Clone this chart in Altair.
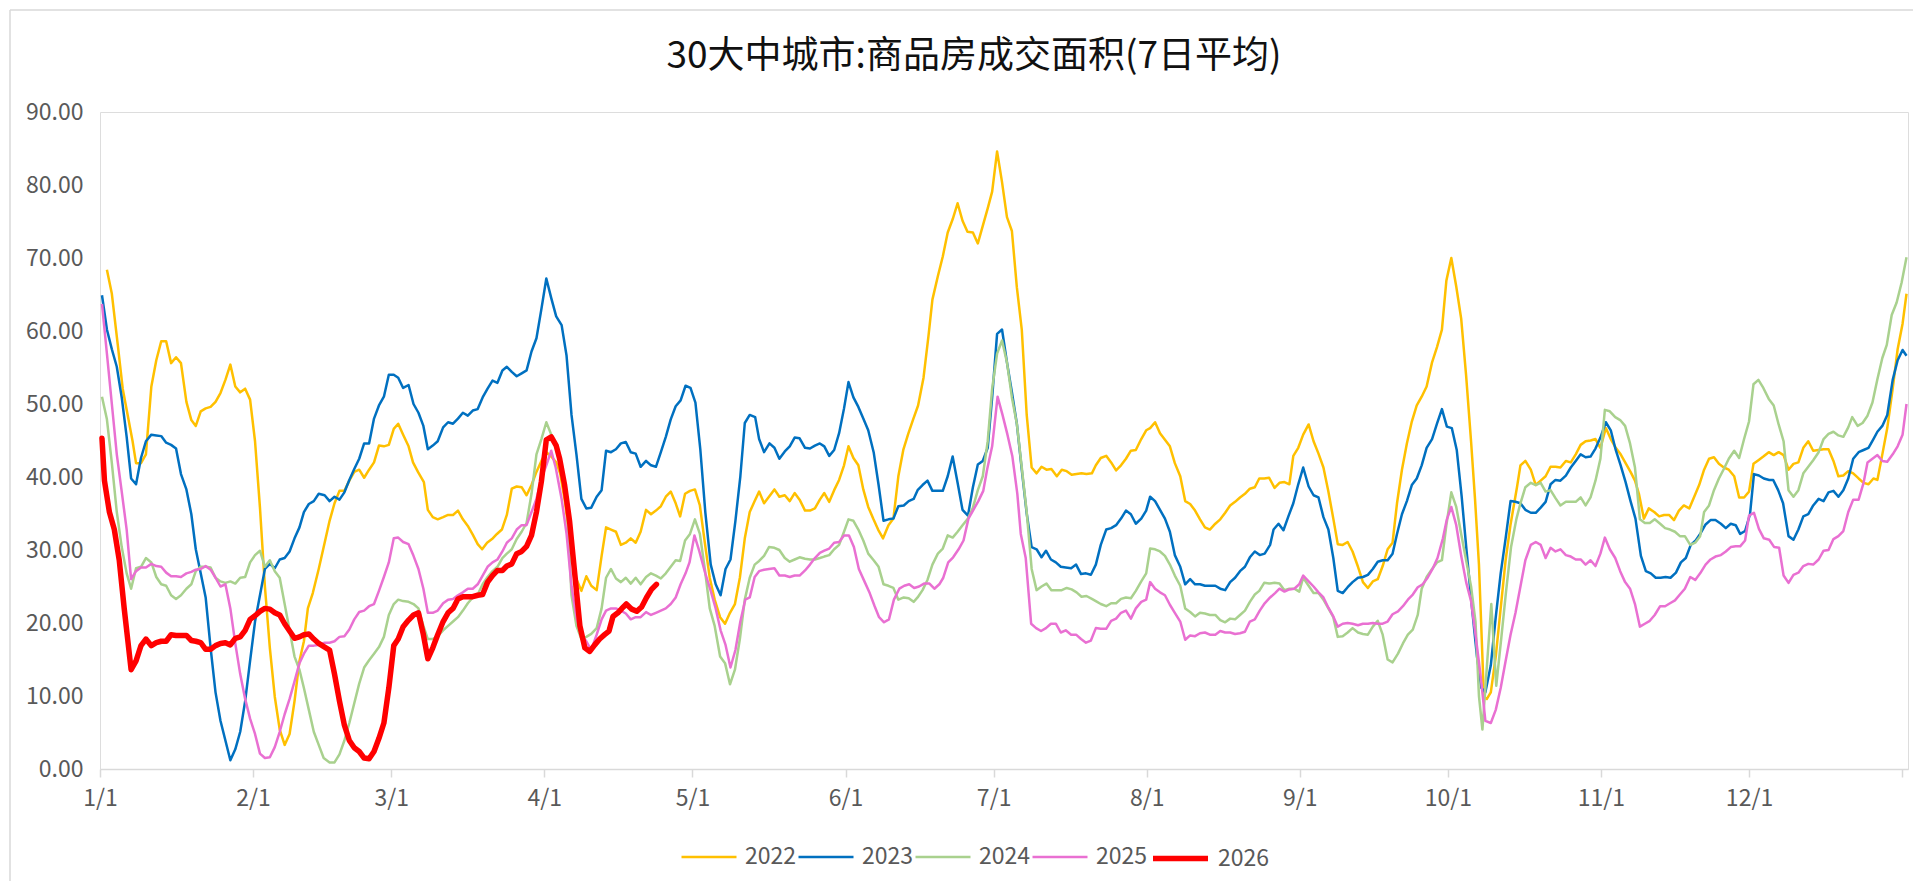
import altair as alt
import pandas as pd

years = ["2022", "2023", "2024", "2025", "2026"]
colors = ["#FFC000", "#0070C0", "#A9D18E", "#E970D2", "#FF0000"]
thin_width = 2.5
thick_width = 5.5
month_days = [0, 31, 59, 90, 120, 151, 181, 212, 243, 273, 304, 334, 365]
month_labels = ["1/1", "2/1", "3/1", "4/1", "5/1", "6/1", "7/1", "8/1", "9/1", "10/1", "11/1", "12/1", ""]
y_ticks = [0, 10, 20, 30, 40, 50, 60, 70, 80, 90]
title_text = "30大中城市:商品房成交面积(7日平均)"

d2022 = [1.4,2.4,3.6,4.6,5.6,6.6,7.3,8.3,9.3,10.4,11.4,12.4,13.4,14.4,15.4,16.4,17.5,18.5,19.4,20.4,21.4,22.4,23.4,24.4,25.4,26.4,27.4,28.4,29.4,30.4,31.4,32.4,33.4,34.4,35.4,36.4,37.4,38.4,39.4,40.4,41.3,42.1,43.1,44.3,45.5,46.5,47.5,48.5,49.5,50.5,51.5,52.5,53.5,54.5,55.5,56.5,57.5,58.5,59.5,60.4,61.4,62.5,63.4,64.4,65.6,66.4,67.4,68.4,69.5,70.5,71.5,72.5,73.5,74.5,75.5,76.5,77.4,78.4,79.4,80.4,81.4,82.4,83.4,84.4,85.4,86.4,87.4,88.4,89.4,90.4,91.4,92.4,93.2,94.2,95.2,96.2,97.5,98.5,99.5,100.6,101.6,102.5,103.5,104.5,105.5,106.5,107.5,108.5,109.5,110.6,111.6,112.6,113.6,114.6,115.6,116.6,117.5,118.5,119.5,120.5,121.5,122.5,123.5,124.5,125.6,126.6,127.6,128.6,129.6,130.6,131.6,132.6,133.5,134.5,135.5,136.6,137.6,138.7,139.7,140.7,141.7,142.8,143.8,144.8,145.8,146.7,147.7,148.7,149.7,150.7,151.6,152.6,153.6,154.6,155.6,156.6,157.6,158.6,159.7,160.7,161.7,162.7,163.7,164.7,165.7,166.8,167.8,168.6,169.7,170.7,171.7,172.7,173.7,174.7,175.7,176.8,177.8,178.8,179.8,180.7,181.7,182.7,183.7,184.7,185.7,186.7,187.7,188.7,189.7,190.7,191.7,192.7,193.8,194.8,195.8,196.8,197.8,198.8,199.8,200.9,201.7,202.7,203.8,204.8,205.8,206.8,207.8,208.8,209.8,210.9,211.9,212.7,213.7,214.7,215.7,216.7,217.7,218.8,219.8,220.8,221.8,222.8,223.8,224.8,225.9,226.9,227.9,228.9,229.9,230.9,231.9,232.9,233.9,234.8,235.8,236.8,237.9,238.9,239.9,240.9,241.7,242.7,243.7,244.8,245.8,246.8,247.8,248.8,249.8,250.7,251.7,252.7,253.7,254.8,255.8,256.8,257.8,258.8,259.8,260.8,261.8,262.7,263.7,264.7,265.7,266.7,267.7,268.7,269.8,270.8,271.8,272.7,273.7,274.7,275.7,276.7,277.7,278.5,279.3,280.3,280.9,281.7,282.7,283.7,284.7,285.7,287.0,287.7,288.7,289.8,290.8,291.8,292.8,293.8,294.8,295.8,296.9,297.9,298.9,299.9,300.9,301.9,302.9,303.9,305.0,306.0,307.0,308.0,309.0,310.0,310.9,311.7,312.7,313.7,314.8,315.8,316.8,317.8,318.8,319.8,320.8,321.9,322.9,323.9,324.9,325.9,326.9,327.9,328.9,329.9,331.0,332.0,333.0,334.0,334.9,335.9,336.9,338.0,339.0,340.0,341.0,342.0,343.0,344.0,345.0,346.0,347.0,348.1,349.1,350.1,351.1,352.1,353.1,354.1,355.1,356.2,357.2,358.2,359.2,360.0,361.0,362.0,363.1,364.1,365.1,365.9]
v2022 = [68.4,65.1,58.1,52.1,48.5,44.9,41.9,41.9,43.1,52.4,56.0,58.6,58.6,55.6,56.4,55.6,50.3,47.8,47.0,49.0,49.4,49.6,50.3,51.5,53.3,55.4,52.4,51.6,52.1,50.6,44.9,35.8,25.0,16.6,9.9,5.4,3.3,4.8,9.3,14.8,17.5,22.0,24.1,27.4,31.0,34.0,36.4,38.1,38.1,39.5,40.7,41.0,39.9,41.0,42.0,44.3,44.2,44.4,46.6,47.3,45.8,44.2,42.0,40.7,39.3,35.5,34.5,34.2,34.5,34.8,34.8,35.4,34.2,33.3,32.1,30.8,30.1,31.0,31.5,32.2,32.8,34.8,38.4,38.7,38.6,37.5,38.9,40.7,42.2,43.4,42.8,42.0,40.5,36.5,31.0,26.5,24.4,26.4,25.1,24.5,29.2,33.1,32.8,32.5,30.7,31.0,31.6,31.0,32.5,35.5,34.9,35.4,36.0,37.3,38.0,36.4,34.6,37.7,38.1,38.3,36.1,31.0,26.2,23.2,20.8,19.9,21.4,22.6,26.2,31.6,35.2,36.7,38.0,36.4,37.3,38.3,37.3,37.5,36.7,37.8,36.9,35.4,35.4,35.7,36.9,37.8,36.6,38.2,39.6,41.6,44.2,42.6,41.6,38.3,35.9,34.3,32.8,31.6,33.4,34.3,40.1,43.7,45.9,47.9,49.8,53.6,59.3,64.3,67.5,70.2,73.5,75.3,77.5,75.1,73.6,73.5,72.0,74.4,76.8,79.1,84.6,80.4,75.6,73.7,66.0,60.2,48.5,41.3,40.5,41.4,41.0,41.1,40.1,41.0,40.8,40.3,40.4,40.5,40.4,40.5,41.6,42.6,42.9,42.0,40.9,41.6,42.5,43.6,43.7,45.2,46.4,46.7,47.5,46.0,45.1,44.2,41.9,40.1,36.7,36.3,35.4,34.2,33.1,32.8,33.6,34.2,35.1,36.1,36.6,37.2,37.7,38.4,38.6,39.8,39.8,39.9,38.5,39.2,39.3,39.0,42.9,44.0,45.8,47.2,44.9,43.2,41.3,38.0,34.3,30.8,30.7,31.1,29.8,27.7,25.6,24.8,25.7,26.0,27.8,30.1,31.0,36.4,41.0,44.6,47.6,49.8,51.0,52.4,55.7,57.8,60.2,66.9,70.0,66.1,61.7,53.9,44.9,37.0,28.0,9.9,9.6,10.5,15.4,22.0,28.6,33.5,38.6,41.6,42.2,41.0,38.9,39.5,40.1,41.4,41.4,41.3,42.2,42.0,43.1,44.4,44.9,45.0,45.2,44.0,46.7,45.2,44.0,43.1,41.9,40.7,39.5,37.7,34.3,35.7,35.2,34.6,34.8,34.8,34.1,35.4,36.1,35.7,37.3,38.9,41.0,42.5,42.7,41.8,41.3,41.0,40.1,37.2,37.2,38.0,41.8,42.3,42.8,43.4,43.0,43.4,43.0,41.0,41.8,42.0,44.0,44.9,43.6,43.7,43.8,43.8,42.2,40.1,40.2,40.8,40.5,39.8,39.2,39.0,39.8,39.6,43.1,46.7,52.1,57.5,61.0,65.1]

d2023 = [0.4,1.4,2.4,3.4,4.4,5.4,6.3,7.3,8.3,9.3,10.4,11.4,12.4,13.4,14.4,15.4,16.4,17.5,18.5,19.4,20.4,21.4,22.4,23.4,24.4,25.4,26.4,27.4,28.4,29.4,30.4,31.4,32.4,33.4,34.4,35.4,36.4,37.4,38.4,39.4,40.4,41.3,42.3,43.3,44.3,45.5,46.5,47.5,48.5,49.5,50.5,51.5,52.5,53.5,54.5,55.5,56.5,57.5,58.5,59.5,60.4,61.4,62.5,63.5,64.5,65.5,66.4,67.4,68.4,69.5,70.5,71.5,72.5,73.5,74.5,75.5,76.5,77.5,78.5,79.5,80.5,81.5,82.4,83.4,84.4,85.4,86.4,87.4,88.4,89.4,90.4,91.4,92.4,93.5,94.5,95.5,96.5,97.5,98.5,99.5,100.6,101.6,102.5,103.5,104.5,105.5,106.5,107.5,108.5,109.5,110.6,111.6,112.6,113.6,114.6,115.6,116.6,117.6,118.6,119.6,120.6,121.6,122.6,123.7,124.7,125.7,126.7,127.7,128.7,129.7,130.6,131.6,132.7,133.5,134.5,135.6,136.6,137.6,138.7,139.7,140.7,141.7,142.8,143.8,144.8,145.8,146.7,147.7,148.7,149.7,150.7,151.6,152.6,153.6,154.6,155.6,156.7,157.7,158.7,159.7,160.7,161.7,162.8,163.8,164.8,165.6,166.6,167.6,168.6,169.7,170.7,171.7,172.7,173.7,174.7,175.8,176.8,177.8,178.8,179.8,180.7,181.7,182.7,183.7,184.7,185.7,186.7,187.7,188.7,189.7,190.7,191.6,192.6,193.6,194.6,195.6,196.7,197.7,198.7,199.7,200.7,201.7,202.7,203.8,204.8,205.8,206.8,207.8,208.8,209.8,210.9,211.9,212.7,213.7,214.7,215.7,216.7,217.7,218.8,219.8,220.8,221.8,222.8,223.8,224.8,225.9,226.9,227.9,228.9,229.9,230.9,231.9,232.9,233.9,234.9,235.9,237.0,237.7,238.7,239.7,240.7,241.7,242.7,243.7,244.8,245.8,246.8,247.8,248.8,249.8,250.7,251.7,252.7,253.7,254.8,255.8,256.8,257.8,258.8,259.8,260.8,261.8,262.7,263.7,264.7,265.7,266.7,267.7,268.7,269.8,270.8,271.8,272.8,273.8,274.8,275.8,276.8,277.9,278.9,279.8,280.6,281.7,282.7,283.7,284.7,285.7,286.7,287.7,288.7,289.8,290.8,291.8,292.8,293.8,294.8,295.8,296.9,297.9,298.9,299.9,300.9,301.9,302.9,303.9,305.0,306.0,307.0,308.0,309.0,310.0,311.0,312.1,313.1,314.1,315.1,316.1,317.1,318.1,319.2,320.2,321.2,322.2,323.2,324.2,325.2,326.2,327.2,328.3,329.3,330.3,331.3,332.2,333.2,334.2,335.0,336.0,337.0,338.1,338.9,339.9,340.9,342.0,343.0,344.0,345.0,346.0,347.0,348.1,349.1,350.1,351.1,352.1,353.1,354.1,355.1,356.2,357.2,358.2,359.2,360.0,361.0,362.0,363.1,364.1,365.1,365.9]
v2023 = [64.9,60.2,57.5,55.1,50.9,45.5,39.8,39.0,42.6,44.9,45.8,45.7,45.6,44.7,44.4,43.9,40.4,38.3,34.9,30.1,26.8,23.5,16.6,10.5,6.6,3.9,1.2,2.7,5.1,9.3,14.8,20.2,23.8,27.4,28.1,27.5,28.7,28.9,29.8,31.6,33.1,35.2,36.3,36.7,37.7,37.5,36.7,37.3,36.9,37.9,39.6,41.1,42.5,44.6,44.6,48.0,49.8,51.0,54.0,54.0,53.6,52.2,52.6,50.0,48.8,47.0,43.8,44.3,44.9,46.8,47.5,47.3,48.0,48.8,48.4,49.1,49.3,50.9,52.1,53.2,52.9,54.6,55.1,54.4,53.8,54.2,54.6,57.2,59.0,63.0,67.2,64.5,62.0,60.8,56.6,48.5,43.1,37.0,35.7,35.8,37.3,38.2,43.6,43.4,43.8,44.6,44.8,43.4,43.2,41.4,42.2,41.6,41.4,43.4,45.5,47.9,49.7,50.5,52.5,52.2,50.2,43.7,35.2,28.0,25.3,23.8,27.4,28.7,34.0,40.1,47.4,48.5,48.2,45.2,43.4,44.6,44.0,42.5,43.5,44.2,45.4,45.3,44.0,43.9,44.3,44.6,44.2,42.9,43.7,46.0,49.4,53.0,50.9,49.6,48.0,46.4,43.4,38.9,34.0,34.2,34.3,36.0,36.1,36.7,37.0,38.2,38.9,39.5,38.1,38.1,38.1,40.1,42.8,39.2,35.5,34.7,38.6,41.7,42.2,44.0,50.9,59.6,60.2,55.7,51.6,47.3,41.0,35.0,30.4,30.1,29.0,29.9,28.7,28.3,27.7,27.6,27.5,28.0,26.7,26.8,26.6,28.0,30.7,32.8,33.0,33.4,34.3,35.4,34.9,33.6,34.3,35.4,37.3,36.7,35.5,34.3,32.5,29.3,27.7,25.3,26.0,25.3,25.3,25.1,25.1,25.1,24.7,24.5,25.6,26.2,27.1,27.7,29.0,29.8,29.3,29.5,30.7,32.8,33.6,32.7,34.6,36.4,39.0,41.3,38.7,37.5,37.2,34.5,32.8,28.9,24.4,24.1,24.9,25.6,26.2,26.3,26.6,27.4,28.4,28.6,28.6,29.5,32.2,34.9,36.7,38.9,39.8,41.6,44.0,45.2,47.3,49.3,46.9,46.7,43.7,37.3,29.8,22.0,15.4,11.1,10.5,14.2,20.8,26.8,31.6,36.7,36.6,36.4,35.5,35.1,35.1,35.8,36.6,39.0,39.6,39.5,40.2,41.3,42.2,43.1,42.7,42.8,43.9,45.4,47.5,46.4,43.7,41.6,39.3,36.7,34.3,29.2,27.1,26.8,26.2,26.2,26.3,26.2,26.9,28.3,28.9,30.7,31.3,32.3,33.5,34.1,34.1,33.6,33.0,33.6,33.4,32.2,32.6,34.9,40.4,40.2,39.8,39.6,39.6,38.2,36.4,31.9,31.4,32.8,34.6,34.9,36.1,37.0,36.7,37.9,38.1,37.3,38.2,39.8,42.5,43.4,43.7,44.0,45.2,46.2,47.0,48.5,53.3,56.0,57.4,56.6]

d2024 = [0.4,1.4,2.4,3.4,4.4,5.4,6.3,7.3,8.3,9.3,10.4,11.4,12.4,13.4,14.4,15.4,16.4,17.5,18.5,19.4,20.4,21.4,22.4,23.4,24.4,25.4,26.4,27.4,28.4,29.4,30.4,31.4,32.4,33.4,34.4,35.4,36.4,37.4,38.4,39.4,40.4,41.3,42.3,43.3,44.3,45.3,46.5,47.5,48.5,49.5,50.5,51.5,52.5,53.5,54.5,55.5,56.5,57.5,58.5,59.5,60.4,61.4,62.5,63.5,64.5,65.5,66.4,67.4,68.4,69.5,70.5,71.5,72.5,73.5,74.5,75.5,76.5,77.5,78.5,79.5,80.5,81.5,82.4,83.4,84.4,85.4,86.4,87.4,88.4,89.4,90.4,91.4,92.4,93.1,94.5,95.5,96.5,97.5,98.5,99.5,100.6,101.6,102.5,103.5,104.5,105.5,106.5,107.5,108.5,109.5,110.6,111.6,112.6,113.6,114.6,115.6,116.6,117.5,118.5,119.5,120.5,121.5,122.5,123.5,124.5,125.6,126.6,127.6,128.6,129.6,130.6,131.6,132.6,133.5,134.5,135.5,136.6,137.6,138.7,139.7,140.7,141.7,142.8,143.8,144.8,145.8,146.7,147.7,148.7,149.7,150.7,151.6,152.6,153.6,154.6,155.6,156.7,157.7,158.7,159.7,160.7,161.7,162.8,163.8,164.8,165.6,166.6,167.6,168.6,169.7,170.7,171.7,172.7,173.7,174.7,175.8,176.8,177.8,178.8,179.8,180.7,181.7,182.7,183.7,184.7,185.7,186.7,187.7,188.7,189.7,190.7,191.7,192.7,193.8,194.8,195.8,196.8,197.8,198.8,199.8,200.9,201.7,202.7,203.8,204.8,205.8,206.8,207.8,208.8,209.8,210.9,211.9,212.7,213.7,214.7,215.7,216.7,217.7,218.8,219.8,220.8,221.8,222.8,223.8,224.8,225.9,226.9,227.9,228.9,229.9,230.9,231.9,232.9,233.9,234.8,235.8,236.8,237.9,238.9,239.9,240.9,241.9,242.9,243.7,244.8,245.8,246.8,247.8,248.8,249.8,250.7,251.7,252.7,253.7,254.8,255.8,256.8,257.8,258.8,259.8,260.8,261.8,262.9,263.9,264.9,265.9,266.9,267.7,268.7,269.8,270.8,271.8,272.7,273.7,274.7,275.7,276.7,277.7,278.6,279.3,280.0,281.8,282.8,283.8,284.8,285.8,286.9,287.7,288.7,289.8,290.8,291.8,292.8,293.8,294.8,295.8,296.9,297.9,298.9,299.9,300.9,301.9,302.9,303.9,304.8,305.8,306.9,307.9,308.9,309.9,310.9,311.9,312.9,313.9,314.9,316.0,317.0,318.0,319.0,320.0,321.0,322.1,323.1,324.1,324.9,325.9,326.9,327.9,328.9,329.9,331.0,332.0,333.0,334.0,334.9,335.9,336.9,338.0,339.0,340.0,341.0,342.0,343.0,344.0,345.0,346.0,347.0,348.1,349.1,350.1,351.1,352.1,353.1,354.1,354.9,356.0,357.0,358.0,359.0,360.0,361.0,361.9,362.9,363.9,364.9,365.9]
v2024 = [51.0,47.9,41.9,35.2,30.4,26.8,24.7,27.5,27.7,28.9,28.3,26.3,25.3,25.1,23.8,23.3,23.8,24.7,25.3,27.1,27.7,27.7,27.6,26.2,25.7,25.5,25.7,25.4,26.2,26.3,28.3,29.3,29.9,27.7,28.6,27.1,26.2,22.6,19.0,15.4,13.6,11.1,8.1,5.1,3.3,1.5,0.9,0.9,2.0,3.9,6.3,9.0,11.7,13.9,14.9,15.8,16.7,18.1,21.1,22.6,23.2,23.0,22.9,22.6,22.0,19.6,17.8,17.8,18.2,19.0,19.6,20.2,20.8,21.7,22.7,23.5,23.9,25.3,26.3,27.1,27.7,28.9,29.5,30.1,31.5,32.5,33.7,37.7,43.1,45.2,47.5,45.8,44.4,41.9,37.0,23.8,19.6,17.8,18.1,18.5,19.3,22.0,26.2,27.4,26.1,25.6,26.2,25.4,26.2,25.3,26.3,26.8,26.5,26.1,26.8,27.7,28.6,28.5,31.3,32.2,34.2,32.2,27.4,22.0,19.6,15.4,14.5,11.6,13.6,17.8,23.2,26.2,28.0,28.5,29.2,30.4,30.3,30.0,28.9,28.4,28.7,29.0,28.8,28.7,28.7,28.9,29.1,29.3,30.1,30.7,32.5,34.2,34.0,32.8,31.3,29.5,28.6,27.7,25.3,25.1,24.8,23.2,23.5,23.4,22.9,23.5,24.5,25.9,28.0,29.5,30.2,32.0,31.7,32.5,33.4,34.3,35.8,38.2,40.1,44.9,52.1,56.9,58.7,55.7,50.9,47.3,41.3,35.2,27.4,24.5,25.0,25.4,24.5,24.5,24.5,24.8,24.6,24.2,23.6,23.7,23.3,23.0,22.6,22.3,22.7,22.7,23.3,23.5,23.4,24.4,25.7,26.8,30.2,30.1,29.8,29.2,28.0,26.5,25.1,22.0,21.5,20.9,21.4,21.3,21.1,21.1,20.4,20.1,20.6,20.5,21.1,21.7,22.9,23.9,24.4,25.5,25.4,25.5,25.4,24.5,24.7,24.7,24.3,26.2,25.1,24.1,24.1,23.2,22.0,20.8,18.1,18.2,18.7,19.3,18.7,18.5,18.4,19.5,20.3,18.4,15.0,14.6,15.8,17.2,18.4,19.1,21.1,24.7,26.3,27.4,28.3,28.6,33.4,37.9,35.9,32.2,28.6,25.0,20.2,10.0,5.4,22.6,11.4,17.8,24.4,30.4,34.3,36.4,38.6,39.2,38.9,39.2,38.0,38.2,37.1,36.1,36.6,36.6,36.6,37.2,36.1,37.2,39.5,42.5,49.2,49.0,48.2,47.8,47.0,44.6,41.3,34.2,33.7,33.7,34.2,33.6,33.0,32.8,32.5,31.9,31.9,30.7,31.0,31.9,35.2,36.1,38.2,39.8,41.1,42.5,43.6,42.6,45.2,47.6,52.7,53.3,52.2,50.7,49.8,47.2,44.9,38.2,37.3,38.2,40.5,41.4,42.3,43.4,45.2,45.9,46.2,45.7,45.5,46.8,48.2,47.0,47.4,48.4,50.2,53.4,56.3,58.1,62.2,63.9,66.6,70.1]

d2025 = [0.4,1.4,2.4,3.4,4.4,5.4,6.3,7.3,8.3,9.3,10.4,11.4,12.4,13.4,14.4,15.4,16.4,17.5,18.5,19.4,20.4,21.4,22.4,23.4,24.4,25.4,26.4,27.4,28.4,29.4,30.4,31.4,32.4,33.4,34.4,35.4,36.4,37.4,38.4,39.4,40.4,41.3,42.3,43.3,44.3,45.5,46.5,47.5,48.5,49.5,50.5,51.5,52.5,53.5,54.5,55.5,56.5,57.5,58.5,59.5,60.4,61.4,62.5,63.5,64.5,65.5,66.4,67.4,68.4,69.5,70.5,71.5,72.5,73.5,74.5,75.5,76.5,77.5,78.5,79.5,80.5,81.5,82.4,83.4,84.4,85.4,86.4,87.4,88.4,89.4,90.4,91.4,92.3,93.5,94.5,95.5,96.5,97.5,98.5,99.5,100.6,101.6,102.5,103.5,104.5,105.5,106.5,107.5,108.5,109.5,110.6,111.6,112.6,113.6,114.6,115.6,116.6,117.6,118.6,119.4,120.4,121.4,122.6,123.7,124.7,125.7,126.7,127.7,128.7,129.7,130.7,131.6,132.6,133.5,134.5,135.5,136.6,137.6,138.7,139.7,140.7,141.7,142.8,143.8,144.8,145.8,146.7,147.7,148.7,149.7,150.7,151.7,152.7,153.7,154.9,155.9,156.9,157.8,158.8,159.8,160.8,161.9,162.9,163.9,164.9,165.9,166.9,168.0,169.0,170.0,170.8,171.8,172.8,173.9,174.9,175.9,176.9,177.9,178.9,179.7,180.7,181.8,182.8,183.8,184.8,185.8,186.5,187.5,188.6,189.6,190.6,191.6,192.6,193.6,194.6,195.6,196.7,197.7,198.7,199.7,200.7,201.7,202.7,203.8,204.8,205.8,206.8,207.8,208.8,209.8,210.9,211.9,212.7,213.7,214.7,215.7,216.7,217.7,218.8,219.8,220.8,221.8,222.8,223.8,224.8,225.9,226.9,227.9,228.9,229.9,230.9,231.9,232.9,233.9,234.9,235.9,237.0,238.0,238.9,239.9,240.9,241.9,242.9,243.7,244.8,245.8,246.8,247.8,248.8,249.8,250.7,251.7,252.7,253.7,254.8,255.8,256.8,257.8,258.8,259.8,260.8,261.8,262.9,263.9,264.9,265.9,266.9,267.9,268.9,269.9,270.9,272.0,272.8,273.7,274.7,275.7,276.7,277.7,278.6,279.6,280.6,281.7,282.7,283.7,284.7,285.7,286.7,287.7,288.7,289.8,290.8,291.8,292.8,293.8,294.8,295.8,296.9,297.9,298.9,299.9,300.9,301.9,302.9,303.9,304.8,305.8,306.9,307.9,308.9,309.9,310.9,311.9,312.9,313.9,314.9,316.0,317.0,318.0,319.0,320.0,321.0,322.1,323.1,324.1,325.2,326.2,327.2,328.3,329.3,330.3,331.3,332.2,333.2,334.0,335.0,336.0,337.0,338.1,339.1,340.1,341.0,342.0,343.0,344.0,345.0,346.0,347.0,348.1,349.1,350.1,351.1,352.1,353.1,354.1,355.1,356.2,357.2,358.0,359.0,360.0,361.0,362.0,363.1,364.1,365.1,365.9]
v2025 = [63.7,56.9,50.0,43.1,38.0,32.8,26.0,27.1,27.6,27.6,28.1,27.8,27.7,26.9,26.4,26.4,26.3,26.8,27.0,27.3,27.4,27.8,27.3,26.2,25.0,25.3,22.0,17.2,13.0,9.6,6.9,4.8,2.1,1.5,1.6,3.0,5.1,7.5,9.6,12.0,14.5,15.8,16.9,16.9,17.0,17.3,17.3,17.5,18.1,18.2,19.1,20.5,21.5,21.7,22.3,22.6,24.4,26.3,28.3,31.6,31.7,31.1,30.8,29.2,27.4,24.7,21.4,21.4,21.7,22.7,23.2,23.3,23.8,24.2,24.7,24.7,25.3,26.5,27.7,28.3,28.7,29.8,31.0,31.6,32.8,33.4,33.4,35.2,37.0,39.8,41.6,43.6,41.3,37.0,32.2,25.0,20.8,18.4,17.5,16.3,18.4,20.5,21.7,22.0,22.0,21.7,21.3,20.5,20.8,20.8,21.5,21.1,21.4,21.7,22.0,22.6,23.5,25.3,26.8,28.3,32.0,29.8,26.8,24.4,22.0,19.0,17.0,13.9,16.3,20.2,23.2,23.5,26.3,27.1,27.3,27.4,27.5,26.5,26.5,26.3,26.5,26.5,27.2,28.0,28.9,29.6,29.9,30.2,31.0,31.1,32.0,32.0,30.4,27.4,25.6,24.1,22.3,20.8,20.1,20.5,23.2,24.7,25.1,25.3,24.8,25.0,25.4,25.4,24.7,25.3,26.2,28.3,29.0,30.1,31.3,34.3,35.5,36.7,38.1,41.1,44.2,51.0,48.5,45.8,42.8,37.7,32.2,28.9,19.9,19.3,18.9,19.3,19.9,19.9,18.7,19.0,18.4,18.4,17.8,17.3,17.6,19.3,19.2,19.2,20.3,20.6,21.4,21.7,20.6,22.0,22.9,23.2,25.6,24.7,24.2,23.8,22.5,21.4,20.2,17.7,18.3,18.2,18.6,18.7,18.4,18.4,18.9,18.7,18.7,18.5,18.6,18.8,20.2,20.5,21.7,22.7,23.5,24.1,24.7,24.3,24.6,24.7,25.3,26.5,25.7,25.0,24.2,23.5,22.1,20.9,19.5,19.9,20.0,19.9,19.7,19.9,19.9,20.0,19.9,19.9,20.2,21.2,21.6,22.3,23.2,23.9,24.9,25.3,26.2,27.4,28.9,31.6,34.2,35.9,33.4,29.2,25.6,23.0,18.4,13.0,6.6,6.3,8.1,11.1,14.8,18.4,21.4,25.0,28.6,30.7,31.1,30.7,28.9,30.3,29.8,30.1,29.3,29.1,28.7,28.7,28.0,28.6,27.8,29.5,31.7,30.1,28.9,27.1,25.6,24.7,22.6,19.5,19.9,20.3,21.1,22.3,22.3,22.7,23.1,23.9,24.7,26.3,25.9,26.8,28.0,28.7,29.1,29.3,29.8,30.4,30.5,30.5,31.3,34.7,35.1,32.9,31.6,31.4,30.4,30.3,26.5,25.5,26.6,26.9,27.8,28.1,28.0,28.7,29.9,30.0,31.5,31.9,32.6,35.2,36.9,36.9,39.2,42.0,42.5,43.0,42.2,42.1,43.1,44.2,45.8,50.0]

d2026 = [0.4,0.9,1.9,2.9,3.9,4.9,5.6,6.3,7.3,8.3,9.3,10.4,11.4,12.4,13.4,14.4,15.4,16.4,17.5,18.5,19.4,20.4,21.4,22.4,23.4,24.4,25.4,26.4,27.4,28.4,29.4,30.4,31.4,32.4,33.4,34.4,35.4,36.4,37.4,38.4,39.4,40.4,41.3,42.3,43.3,44.3,45.5,46.5,47.5,48.5,49.5,50.5,51.5,52.5,53.5,54.5,55.5,56.5,57.5,58.5,59.5,60.4,61.4,62.5,63.5,64.5,65.5,66.4,67.4,68.4,69.5,70.5,71.5,72.5,73.5,74.5,75.5,76.5,77.5,78.5,79.5,80.5,81.5,82.4,83.4,84.4,85.4,86.4,87.4,88.4,89.4,90.4,91.4,92.4,93.1,94.1,95.1,95.8,96.5,97.2,98.2,99.2,100.2,101.2,102.2,103.1,103.9,104.9,106.0,106.6,107.7,108.7,109.7,110.7,111.7,112.7]
v2026 = [45.3,39.5,35.2,32.8,28.6,22.0,17.8,13.6,14.8,16.9,17.8,16.9,17.3,17.5,17.5,18.4,18.3,18.3,18.3,17.6,17.5,17.3,16.4,16.4,16.9,17.2,17.3,17.0,17.9,18.1,19.0,20.5,21.0,21.6,22.0,21.9,21.4,21.1,19.9,18.9,17.9,18.1,18.4,18.5,17.8,17.2,16.7,16.3,13.0,9.3,6.0,3.9,2.9,2.4,1.5,1.4,2.4,4.2,6.3,11.1,16.9,17.8,19.5,20.4,21.1,21.4,18.4,15.1,16.6,18.4,20.2,21.4,22.0,23.3,23.6,23.6,23.6,23.8,23.9,25.6,26.5,27.2,27.2,27.8,28.1,29.5,29.8,30.5,32.0,35.2,39.4,45.1,45.5,44.3,42.5,38.9,34.0,29.2,24.4,19.6,16.6,16.1,17.0,17.8,18.4,18.9,20.9,21.4,22.2,22.6,21.9,21.6,22.2,23.5,24.6,25.3]

past = [(years[0], d2022, v2022), (years[1], d2023, v2023),
        (years[2], d2024, v2024), (years[3], d2025, v2025)]
rows = []
for yr, ds, vs in past:
    for d, v in zip(ds, vs):
        rows.append({"year": yr, "day": d, "value": v})
df_past = pd.DataFrame(rows)
df_now = pd.DataFrame({"series": years[4], "day": d2026, "value": v2026})

FONT = "Noto Sans CJK SC"
GREY = "#595959"
label_expr = ("[" + ",".join("'%s'" % s for s in month_labels) + "][indexof(["
              + ",".join(str(d) for d in month_days) + "], datum.value)]")

W, H = 1808, 657
LEG_Y = 716

x_enc = alt.X("day:Q", scale=alt.Scale(domain=[0, 366.2], nice=False, zero=False),
              axis=alt.Axis(values=month_days, labelExpr=label_expr, title=None, grid=False,
                            domainColor="#D9D9D9", domainWidth=1.5, tickColor="#D9D9D9", tickWidth=1.5,
                            tickSize=8, labelFont=FONT, labelFontSize=23, labelColor=GREY,
                            labelPadding=10, labelFlush=False, labelOverlap=False))
y_enc = alt.Y("value:Q", scale=alt.Scale(domain=[0, 90], nice=False),
              axis=alt.Axis(values=y_ticks, format=".2f", title=None, grid=False, domain=False,
                            ticks=False, labelPadding=17, labelFont=FONT, labelFontSize=23,
                            labelColor=GREY, labelFlush=False))

legend_common = dict(title=None, orient="none", direction="horizontal", symbolType="stroke",
                     symbolSize=3025, labelFont=FONT, labelFontSize=23, labelColor=GREY,
                     labelOffset=7, columnPadding=-8)

past_lines = alt.Chart(df_past).mark_line(strokeWidth=thin_width, strokeJoin="round").encode(
    x=x_enc, y=y_enc,
    color=alt.Color("year:N", scale=alt.Scale(domain=years[:4], range=colors[:4]),
                    legend=alt.Legend(legendX=580, legendY=LEG_Y, symbolStrokeWidth=thin_width,
                                      **legend_common)),
)

now_line = alt.Chart(df_now).mark_line(strokeWidth=thick_width, strokeJoin="round", strokeCap="round").encode(
    x=x_enc, y=y_enc,
    stroke=alt.Stroke("series:N", scale=alt.Scale(domain=years[4:], range=colors[4:]),
                      legend=alt.Legend(legendX=1050, legendY=LEG_Y,
                                        symbolStrokeWidth=thick_width, **legend_common)),
)

frame_df = pd.DataFrame({"k": [0]})
left_border = alt.Chart(frame_df).mark_rule(color="#D9D9D9", strokeWidth=1.5).encode(
    x=alt.value(-90), y=alt.value(-102), y2=alt.value(H + 112))
top_border = alt.Chart(frame_df).mark_rule(color="#D9D9D9", strokeWidth=1.5).encode(
    x=alt.value(-90), x2=alt.value(W + 5), y=alt.value(-102))

chart = alt.layer(left_border, top_border, past_lines, now_line).resolve_scale(
    color="independent", stroke="independent"
).properties(
    width=W, height=H,
    title=alt.TitleParams(title_text, font=FONT, fontSize=37, fontWeight="normal", color="#111111",
                          anchor="middle", frame="group", dx=-30, offset=-67),
    autosize=alt.AutoSizeParams(type="none"),
    padding={"left": 92, "top": 104, "right": 5, "bottom": 112},
).configure_view(stroke=None).configure(font=FONT, background="white")

chart.save("out.html", embed_options={"renderer": "svg", "actions": False})
